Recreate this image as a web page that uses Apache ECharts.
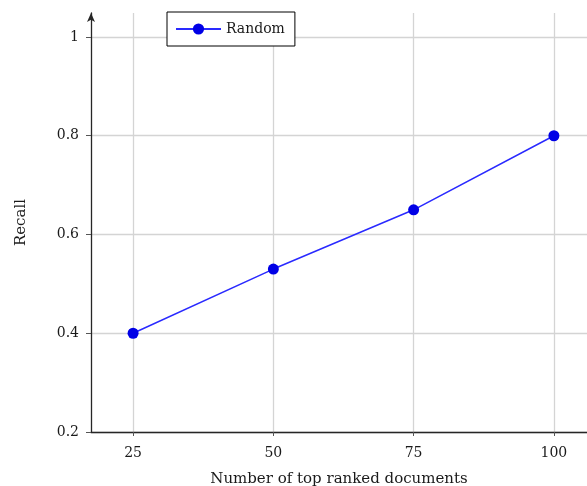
<!DOCTYPE html>
<html>
<head>
<meta charset="utf-8">
<script src="https://cdn.jsdelivr.net/npm/echarts@6/dist/echarts.min.js"></script>
<style>
  html, body { margin: 0; padding: 0; background: #fff; overflow: hidden; }
  #chart { width: 587px; height: 486px; }
</style>
</head>
<body>
<div id="chart"></div>
<script>
// Recall at different cut-offs of the ranked document list
const docCounts = [25, 50, 75, 100];
const recallRandom = [0.40, 0.53, 0.65, 0.80];
const xTicks = [25, 50, 75, 100];
const yTicks = [0.2, 0.4, 0.6, 0.8, 1.0];

const serif = '"DejaVu Serif", "Liberation Serif", serif';
const gridColor = '#d4d4d4';
const axisColor = '#262626';

const chart = echarts.init(document.getElementById('chart'), null, { renderer: 'canvas' });

chart.setOption({
  animation: false,
  backgroundColor: '#ffffff',
  grid: { left: 91, right: 0, top: 13, bottom: 54, containLabel: false, outerBoundsMode: 'none' },
  legend: {
    left: 167, top: 12,
    padding: [10, 10, 10, 8],
    itemWidth: 45, itemHeight: 14, itemGap: 4,
    borderColor: '#000', borderWidth: 1, borderRadius: 0,
    backgroundColor: '#fff',
    textStyle: { fontFamily: serif, fontSize: 14, color: '#1a1a1a' },
    data: ['Random']
  },
  xAxis: {
    type: 'value',
    min: 17.5, max: 105.9,
    name: 'Number of top ranked documents',
    nameLocation: 'middle', nameGap: 40,
    nameTextStyle: { fontFamily: serif, fontSize: 15, color: '#1a1a1a' },
    axisLine: { lineStyle: { color: axisColor, width: 1.3 } },
    axisTick: { customValues: xTicks, length: 4, lineStyle: { color: '#555', width: 1 } },
    axisLabel: { customValues: xTicks, fontFamily: serif, fontSize: 14, color: '#1a1a1a', margin: 14 },
    splitLine: { show: true, lineStyle: { color: gridColor, width: 1.3 } }
  },
  yAxis: {
    type: 'value',
    min: 0.2, max: 1.0486,
    name: 'Recall',
    nameLocation: 'middle', nameGap: 62,
    nameRotate: 90,
    nameTextStyle: { fontFamily: serif, fontSize: 15, color: '#1a1a1a' },
    axisLine: {
      show: true,
      symbol: ['none', 'arrow'], symbolSize: [6, 9],
      lineStyle: { color: axisColor, width: 1.3 }
    },
    axisTick: { show: true, customValues: yTicks, length: 5, lineStyle: { color: '#555', width: 1 } },
    axisLabel: {
      customValues: yTicks, fontFamily: serif, fontSize: 14, color: '#1a1a1a', margin: 12,
      formatter: v => String(Math.round(v * 10) / 10)
    },
    splitLine: { show: true, lineStyle: { color: gridColor, width: 1.3 } }
  },
  series: [{
    name: 'Random',
    type: 'line',
    data: docCounts.map((d, i) => [d, recallRandom[i]]),
    symbol: 'circle',
    symbolSize: 11,
    itemStyle: { color: '#0000e6' },
    lineStyle: { color: '#2a2aff', width: 1.5 }
  }]
});
</script>
</body>
</html>
